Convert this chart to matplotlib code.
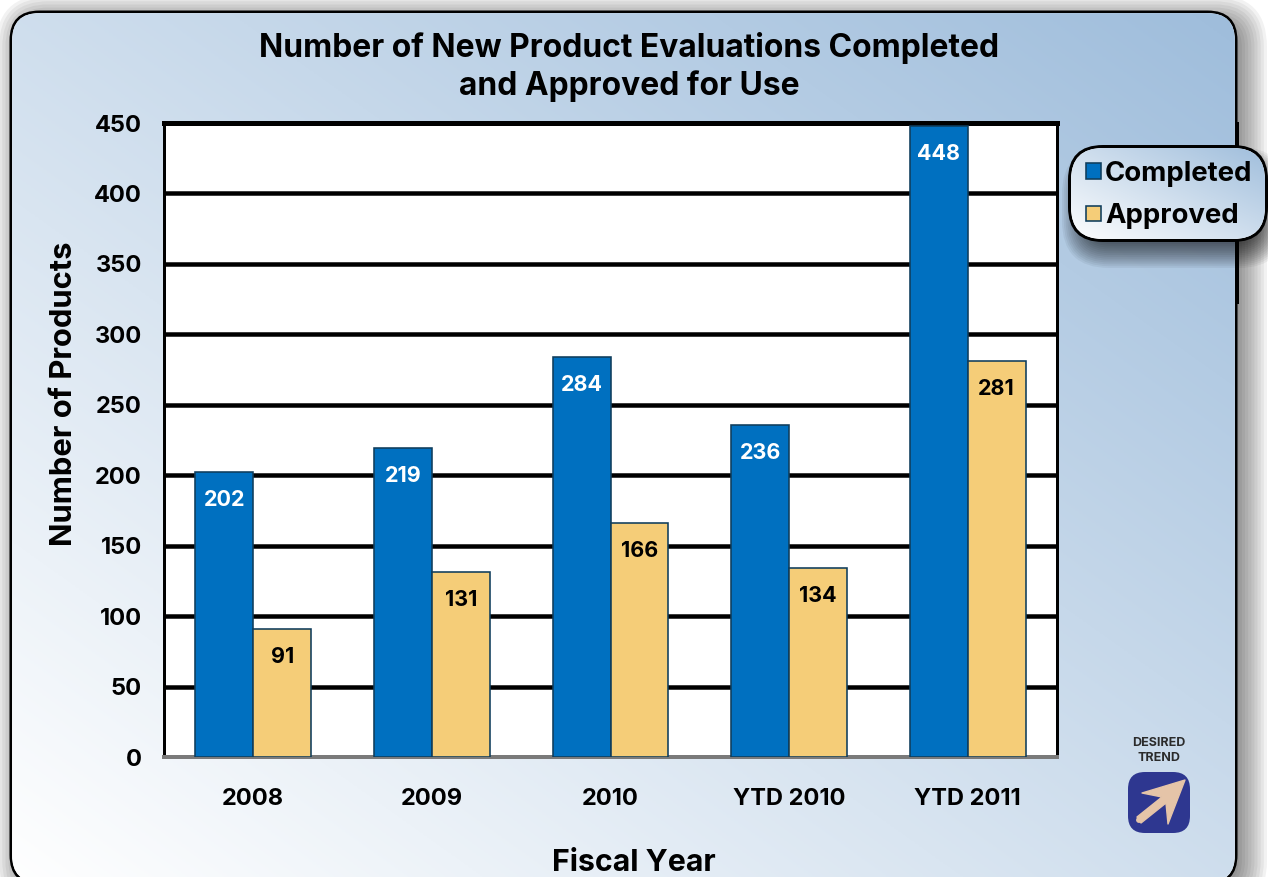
import numpy as np
import matplotlib
matplotlib.use('Agg')
import matplotlib.pyplot as plt
from matplotlib.patches import FancyBboxPatch, Polygon, Patch

categories = ['2008', '2009', '2010', 'YTD 2010', 'YTD 2011']
completed = [202, 219, 284, 236, 448]
approved = [91, 131, 166, 134, 281]
y_ticks = [0, 50, 100, 150, 200, 250, 300, 350, 400, 450]

BLUE = '#0070c0'
TAN = '#f5cd78'
EDGE = '#0f3d5c'
PX = 72 / 100  # one pixel in points at dpi 100

plt.rcParams['font.family'] = ['Inter', 'DejaVu Sans']
plt.rcParams['font.weight'] = 'bold'


def round_box(ax, x0, y0, x1, y1, r, **kw):
    box = FancyBboxPatch((x0 + r, y0 + r), x1 - x0 - 2 * r, y1 - y0 - 2 * r,
                         boxstyle=f'round,pad={r},rounding_size={r}', **kw)
    ax.add_patch(box)
    return box


def shadow(ax, x0, y0, x1, y1, r, dx, dy, blur, alpha, zorder, n=14):
    # soft shadow, stacked boxes getting smaller
    for i in range(n):
        g = blur * (1 - 2 * i / n)
        round_box(ax, x0 + dx - g, y0 + dy - g, x1 + dx + g, y1 + dy + g,
                  max(r + g, 2), fc='black', ec='none', alpha=alpha, zorder=zorder)


def framed_gradient(ax, x0, y0, x1, y1, r, border, zorder):
    # black box, then the white to blue fill clipped to a box just inside it
    round_box(ax, x0, y0, x1, y1, r, fc='black', ec='none', zorder=zorder)
    inner = round_box(ax, x0 + border, y0 + border, x1 - border, y1 - border, r - border,
                      fc='white', ec='none', zorder=zorder + 0.1)
    xx, yy = np.meshgrid(np.linspace(0, 1, 300), np.linspace(0, 1, 300))
    t = ((xx + (1 - yy)) / 2)[..., None]
    rgb = np.array([1.0, 1.0, 1.0]) * (1 - t) + np.array([0.62, 0.74, 0.86]) * t
    im = ax.imshow(rgb, extent=(x0, x1, y1, y0), aspect='auto', zorder=zorder + 0.2)
    im.set_clip_path(inner)


fig = plt.figure(figsize=(12.68, 8.77), dpi=100, facecolor='white')

# background layer in pixel coordinates
bg = fig.add_axes([0, 0, 1, 1], zorder=0)

shadow(bg, 10, 11, 1237, 885, 30, 8, 6, 22, 0.05, 1)
framed_gradient(bg, 9.5, 10.5, 1237.5, 885, 30, 2.6, 2)
bg.plot([1237, 1237], [122, 304], color='black', lw=4 * PX, solid_capstyle='butt', zorder=3)

# legend pill
shadow(bg, 1069, 146, 1267, 241, 34, 6, 14, 13, 0.05, 3.5)
framed_gradient(bg, 1068, 145, 1268, 242, 35, 3, 4)

# desired trend badge
round_box(bg, 1128, 772, 1190, 833, 17, fc='#2e3790', ec='none', zorder=6)
bg.add_patch(Polygon([(1185, 780), (1142, 793), (1162, 797), (1137, 817), (1141, 823),
                      (1166, 803), (1168, 824)], closed=True, fc='#e5c4a8',
                     ec='#e5c4a8', lw=1, joinstyle='round', zorder=7))
bg.plot([1139, 1163], [820, 800], color='#e5c4a8', lw=6 * PX, solid_capstyle='round', zorder=7)
bg.text(1159, 750.5, 'DESIRED\nTREND', ha='center', va='center', fontsize=9,
        color='#2b2b2b', linespacing=1.3, zorder=7)

bg.set_xlim(0, 1268)
bg.set_ylim(877, 0)
bg.axis('off')

# main chart
ax = fig.add_axes([164 / 1268, 1 - 757 / 877, (1057 - 164) / 1268, (757 - 123) / 877], zorder=2)
ax.set_facecolor('white')
x = np.arange(len(categories))
w = 0.324
bars1 = ax.bar(x - w / 2, completed, w, color=BLUE, edgecolor=EDGE, linewidth=1.6 * PX,
               zorder=3, label='Completed')
bars2 = ax.bar(x + w / 2, approved, w, color=TAN, edgecolor=EDGE, linewidth=1.6 * PX,
               zorder=3, label='Approved')

for rect, val in zip(bars1, completed):
    ax.annotate(str(val), (rect.get_x() + rect.get_width() / 2, val), xytext=(0, -28 * PX),
                textcoords='offset points', ha='center', va='center', color='white',
                fontsize=15.5, zorder=5)
for rect, val in zip(bars2, approved):
    ax.annotate(str(val), (rect.get_x() + rect.get_width() / 2, val), xytext=(0, -28 * PX),
                textcoords='offset points', ha='center', va='center', color='black',
                fontsize=15.5, zorder=5)

ax.set_xlim(-0.5, len(categories) - 0.5)
ax.set_ylim(0, 450)
ax.set_yticks(y_ticks)
ax.set_xticks(x, categories)
ax.yaxis.grid(True, color='black', linewidth=4.5 * PX, zorder=1)
ax.set_axisbelow(True)
ax.tick_params(axis='both', length=0, labelsize=17)
ax.tick_params(axis='y', pad=22 * PX)
ax.tick_params(axis='x', pad=31 * PX)
for side in ['left', 'right']:
    ax.spines[side].set_linewidth(3 * PX)
ax.spines['top'].set_linewidth(5 * PX)
ax.spines['bottom'].set_linewidth(4 * PX)
ax.spines['bottom'].set_color('#7a7a7a')

ax.set_ylabel('Number of Products', fontsize=22.3, fontweight='bold', va='center')
ax.yaxis.set_label_coords((64 - 164) / 893, (757 - 394) / 634)
ax.set_xlabel('Fiscal Year', fontsize=21.8, fontweight='bold', va='center')
ax.xaxis.set_label_coords((634 - 164) / 893, -(863 - 757) / 634)

fig.text(629 / 1268, 1 - 67 / 877, 'Number of New Product Evaluations Completed\nand Approved for Use',
         ha='center', va='center', fontsize=22.9, linespacing=1.22, color='black')

legend_handles = [Patch(fc=BLUE, ec=EDGE, lw=1.6 * PX, label='Completed'),
                  Patch(fc=TAN, ec=EDGE, lw=1.6 * PX, label='Approved')]
leg = ax.legend(handles=legend_handles, loc='center left', frameon=False, fontsize=19.8,
                bbox_to_anchor=(1086 / 1268, 1 - 195 / 877), bbox_transform=fig.transFigure,
                handlelength=0.54, handleheight=0.48, handletextpad=0.16, labelspacing=0.6,
                borderpad=0, borderaxespad=0)
leg.set_zorder(10)

fig.savefig('out.png', dpi=100)
